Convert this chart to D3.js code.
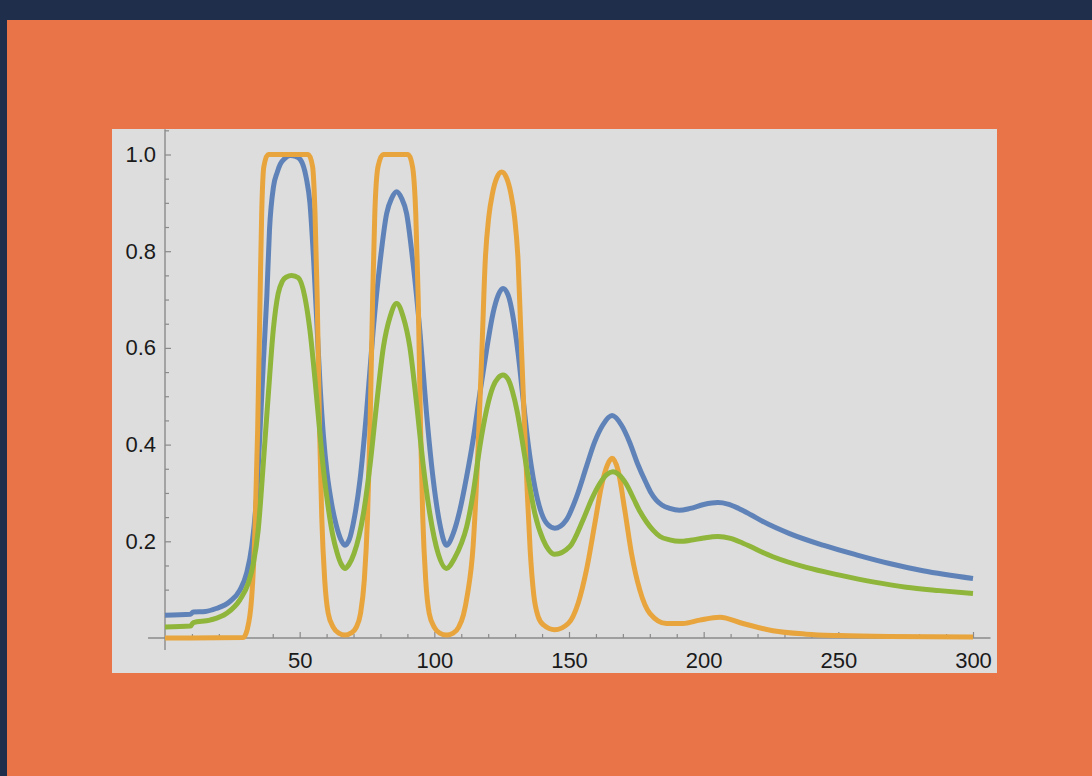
<!DOCTYPE html>
<html>
<head>
<meta charset="utf-8">
<script src="https://cdn.jsdelivr.net/npm/d3@7"></script>
<style>
  html, body { margin: 0; padding: 0; background: #1f2e4b; }
  svg { display: block; }
  text { font-family: "Liberation Sans", Arial, sans-serif; }
</style>
</head>
<body>
<svg id="chart" width="1092" height="776"></svg>
<script>
// Three response curves sampled along x (0..300)
const blueX = [0, 9.5, 10.5, 15, 19, 24, 27.8, 30.3, 32.2, 34, 35.3, 36.5, 37.8, 38.8, 40.3, 41.6, 42.8, 44.5, 46.5, 48.5, 50.2, 52.5, 53.8, 55.2, 56.4, 57.6, 58.8, 60.2, 61.8, 63.5, 65.2, 66.8, 68.5, 69.9, 72.4, 74.8, 77.3, 79.8, 82.3, 84.2, 86, 87.8, 89.7, 92.1, 94.6, 97.1, 99.6, 102, 104.5, 107, 109.5, 112, 114.4, 116.9, 119.4, 121.8, 123.7, 125.5, 127.4, 129.2, 131.1, 133, 134.8, 137.3, 139.8, 142.2, 144.7, 149, 152.8, 156.5, 159.5, 162.5, 166, 169.5, 172.5, 175.5, 178.7, 180.5, 182.4, 184.5, 187.4, 191, 195, 200, 205.3, 209, 213, 217.5, 222, 231.9, 244.3, 256.7, 269, 281.4, 300];
const blueY = [0.047, 0.049, 0.054, 0.055, 0.061, 0.075, 0.099, 0.134, 0.189, 0.292, 0.43, 0.568, 0.706, 0.844, 0.934, 0.962, 0.98, 0.992, 0.998, 0.996, 0.99, 0.95, 0.9, 0.78, 0.65, 0.52, 0.42, 0.34, 0.28, 0.235, 0.205, 0.192, 0.205, 0.237, 0.327, 0.465, 0.637, 0.775, 0.878, 0.91, 0.923, 0.91, 0.878, 0.775, 0.637, 0.465, 0.327, 0.237, 0.192, 0.216, 0.265, 0.334, 0.41, 0.506, 0.596, 0.672, 0.709, 0.723, 0.709, 0.665, 0.589, 0.492, 0.403, 0.313, 0.258, 0.234, 0.227, 0.244, 0.292, 0.355, 0.405, 0.44, 0.46, 0.44, 0.405, 0.36, 0.32, 0.3, 0.285, 0.275, 0.268, 0.264, 0.268, 0.276, 0.28, 0.277, 0.268, 0.255, 0.241, 0.216, 0.192, 0.172, 0.154, 0.139, 0.123];

const orangeX = [0, 29, 30.5, 32.2, 33.4, 34.4, 35.3, 35.9, 36.7, 38.3, 53.2, 54.8, 55.7, 56.5, 57.4, 58.2, 59.3, 60.6, 62.5, 64.5, 66.8, 69, 71, 72.6, 74, 75.2, 76.1, 77.1, 77.9, 79.1, 81, 90.3, 91.9, 93.1, 94, 94.9, 95.7, 96.8, 98.1, 100, 102, 104.5, 107, 109, 110.8, 112.3, 114.4, 116.3, 117.7, 118.9, 120.2, 121.6, 123.2, 125, 126.8, 128.4, 129.8, 131.1, 132.2, 133.4, 134.6, 135.6, 136.9, 138.5, 140.5, 144.7, 149.7, 153.4, 156.5, 159.6, 162, 164.5, 166, 168.2, 170.7, 173.2, 176.3, 180, 186.2, 192.3, 198.5, 206, 214.6, 225.7, 238.1, 250.5, 269, 300];
const orangeY = [0, 0.001, 0.017, 0.085, 0.223, 0.43, 0.706, 0.878, 0.975, 1.0, 1.0, 0.975, 0.878, 0.706, 0.43, 0.25, 0.12, 0.051, 0.022, 0.01, 0.006, 0.01, 0.022, 0.051, 0.12, 0.25, 0.43, 0.706, 0.878, 0.975, 1.0, 1.0, 0.975, 0.878, 0.706, 0.43, 0.25, 0.12, 0.051, 0.022, 0.01, 0.006, 0.01, 0.022, 0.048, 0.09, 0.19, 0.4, 0.6, 0.78, 0.87, 0.92, 0.952, 0.964, 0.952, 0.92, 0.87, 0.78, 0.62, 0.45, 0.29, 0.18, 0.09, 0.045, 0.027, 0.017, 0.03, 0.072, 0.141, 0.237, 0.313, 0.361, 0.372, 0.347, 0.265, 0.175, 0.099, 0.051, 0.03, 0.03, 0.037, 0.043, 0.03, 0.015, 0.008, 0.005, 0.003, 0.002];

const greenX = [0, 9.5, 10.5, 16.7, 22.9, 27.8, 30.9, 32.8, 34.6, 36.5, 38.3, 40.2, 42, 43.6, 45.2, 47, 49.5, 51.9, 53.8, 55.7, 57.4, 59, 60.6, 62.2, 63.9, 65.4, 66.8, 68.3, 70.2, 72, 73.7, 76.2, 78.6, 81.1, 83.6, 86, 88.4, 90.9, 93.4, 95.8, 98.3, 101.4, 104.5, 107.5, 110, 112, 114.4, 116.9, 119.4, 121.8, 123.7, 125.5, 127.4, 129, 130.7, 132.4, 134.8, 137.3, 140.4, 142.5, 144.7, 150.3, 155.2, 158.5, 161.5, 164, 166.3, 168.5, 171.3, 174, 176.3, 178.8, 181.2, 183.8, 187.4, 191, 195, 200, 205.3, 210, 214.6, 225.7, 238.1, 250.5, 262.8, 275.2, 287.6, 300];
const greenY = [0.023, 0.025, 0.032, 0.037, 0.051, 0.079, 0.113, 0.154, 0.223, 0.361, 0.499, 0.637, 0.712, 0.738, 0.747, 0.75, 0.745, 0.706, 0.637, 0.534, 0.43, 0.34, 0.27, 0.215, 0.176, 0.153, 0.144, 0.152, 0.175, 0.21, 0.258, 0.361, 0.485, 0.602, 0.665, 0.692, 0.665, 0.602, 0.485, 0.361, 0.258, 0.175, 0.144, 0.165, 0.195, 0.23, 0.299, 0.396, 0.472, 0.52, 0.538, 0.544, 0.535, 0.51, 0.47, 0.416, 0.334, 0.258, 0.203, 0.182, 0.173, 0.189, 0.244, 0.288, 0.32, 0.338, 0.344, 0.338, 0.318, 0.288, 0.262, 0.24, 0.223, 0.21, 0.203, 0.2, 0.202, 0.207, 0.21, 0.206, 0.196, 0.168, 0.146, 0.13, 0.116, 0.105, 0.098, 0.092];

// Axis ticks
const xMajorTicks = [50, 100, 150, 200, 250, 300];
const xMinorTicks = d3.range(10, 301, 10).filter(v => v % 50 !== 0);
const yMajorTicks = [0.2, 0.4, 0.6, 0.8, 1.0];
const yMinorTicks = [0.05, 0.1, 0.15, 0.25, 0.3, 0.35, 0.45, 0.5, 0.55, 0.65, 0.7, 0.75, 0.85, 0.9, 0.95, 1.05];

const series = [
  { xs: blueX,   ys: blueY,   color: "#5f83b8" },
  { xs: orangeX, ys: orangeY, color: "#e8a53d" },
  { xs: greenX,  ys: greenY,  color: "#8fb53a" }
];

const svg = d3.select("#chart");

// Backdrop: navy page with orange card
svg.append("rect").attr("x", 0).attr("y", 0).attr("width", 1092).attr("height", 776).attr("fill", "#1f2e4b");
svg.append("rect").attr("x", 7).attr("y", 20).attr("width", 1085).attr("height", 756).attr("fill", "#e87447");

// Light plot panel
svg.append("rect").attr("x", 112).attr("y", 129).attr("width", 885).attr("height", 544).attr("fill", "#dddddd");

const x = d3.scaleLinear().domain([0, 300]).range([165, 973]);
const y = d3.scaleLinear().domain([0, 1]).range([638, 154.5]);

const axisColor = "#8a8a8a";

// Axis lines extending slightly past the origin
svg.append("line")
  .attr("x1", x(-6.3)).attr("x2", x(306.5))
  .attr("y1", y(0)).attr("y2", y(0))
  .attr("stroke", axisColor).attr("stroke-width", 1.4);
svg.append("line")
  .attr("x1", x(0)).attr("x2", x(0))
  .attr("y1", y(-0.025)).attr("y2", y(1.052))
  .attr("stroke", axisColor).attr("stroke-width", 1.4);

function styleAxis(g) {
  g.select(".domain").remove();
  g.selectAll(".tick line").attr("stroke", axisColor).attr("stroke-width", 1.2);
  g.selectAll(".tick text").attr("fill", "#1a1a1a").attr("font-size", 22)
    .attr("font-family", "'Liberation Sans', Arial, sans-serif");
}

// x axis: ticks point up into the plot
svg.append("g").attr("transform", `translate(0,${y(0)})`)
  .call(d3.axisBottom(x).tickValues(xMinorTicks).tickSize(-4).tickFormat(""))
  .call(styleAxis);
svg.append("g").attr("transform", `translate(0,${y(0)})`)
  .call(d3.axisBottom(x).tickValues(xMajorTicks).tickSize(-6).tickPadding(14).tickFormat(d3.format("d")))
  .call(styleAxis);

// y axis: ticks point right into the plot
svg.append("g").attr("transform", `translate(${x(0)},0)`)
  .call(d3.axisLeft(y).tickValues(yMinorTicks).tickSize(-4).tickFormat(""))
  .call(styleAxis);
svg.append("g").attr("transform", `translate(${x(0)},0)`)
  .call(d3.axisLeft(y).tickValues(yMajorTicks).tickSize(-6).tickPadding(9).tickFormat(d3.format(".1f")))
  .call(styleAxis);

// Curves
const line = d3.line()
  .x(d => x(d[0]))
  .y(d => y(d[1]))
  .curve(d3.curveMonotoneX);

series.forEach(s => {
  const pts = s.xs.map((v, i) => [v, s.ys[i]]);
  svg.append("path")
    .datum(pts)
    .attr("d", line)
    .attr("fill", "none")
    .attr("stroke", s.color)
    .attr("stroke-width", 5)
    .attr("stroke-linejoin", "round")
    .attr("stroke-linecap", "butt");
});
</script>
</body>
</html>
